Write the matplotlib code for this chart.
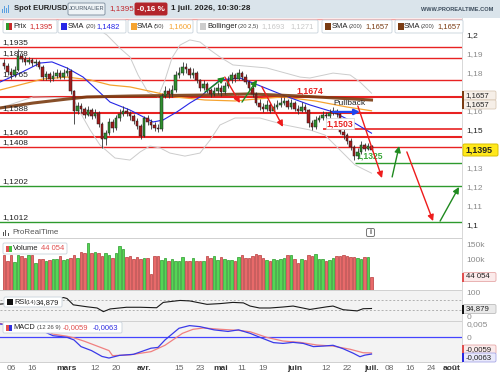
import matplotlib
matplotlib.use('Agg')
import matplotlib.pyplot as plt
from matplotlib.patches import Rectangle, FancyBboxPatch
from matplotlib.lines import Line2D
import pandas as pd

plt.rcParams['font.family'] = ['Liberation Sans', 'DejaVu Sans']

W, H = 500, 375

# ---------------- DONNEES ----------------
# Bougies journalieres EUR/USD (index de barre 0 = 4 fevr. 2026)
closes = [
    1.1835, 1.1805, 1.1790, 1.1815, 1.1890, 1.1872, 1.1860, 1.1868, 1.1850, 1.1856,
    1.1832, 1.1778, 1.1792, 1.1770, 1.1786, 1.1802, 1.1781, 1.1797, 1.1812, 1.1702,
    1.1600, 1.1626, 1.1610, 1.1580, 1.1602, 1.1574, 1.1590, 1.1532, 1.1452, 1.1483,
    1.1542, 1.1511, 1.1560, 1.1583, 1.1601, 1.1588, 1.1570, 1.1548, 1.1521, 1.1468,
    1.1560, 1.1541, 1.1524, 1.1510, 1.1502, 1.1680, 1.1702, 1.1688, 1.1712, 1.1790,
    1.1802, 1.1832, 1.1818, 1.1790, 1.1801, 1.1760, 1.1722, 1.1741, 1.1710, 1.1691,
    1.1702, 1.1722, 1.1700, 1.1731, 1.1760, 1.1788, 1.1770, 1.1798, 1.1780, 1.1752,
    1.1720, 1.1690, 1.1641, 1.1622, 1.1610, 1.1631, 1.1601, 1.1620, 1.1632, 1.1641,
    1.1650, 1.1621, 1.1640, 1.1611, 1.1600, 1.1621, 1.1606, 1.1538, 1.1512, 1.1550,
    1.1561, 1.1580, 1.1571, 1.1590, 1.1600, 1.1581, 1.1490, 1.1470, 1.1441, 1.1410,
    1.1360, 1.1381, 1.1420, 1.1401, 1.1412, 1.1395]
highs = [
    1.1872, 1.1850, 1.1828, 1.1836, 1.1928, 1.1905, 1.1890, 1.1885, 1.1880, 1.1874,
    1.1866, 1.1840, 1.1812, 1.1805, 1.1808, 1.1820, 1.1815, 1.1818, 1.1830, 1.1820,
    1.1712, 1.1648, 1.1640, 1.1622, 1.1625, 1.1615, 1.1612, 1.1598, 1.1540, 1.1500,
    1.1560, 1.1555, 1.1580, 1.1610, 1.1625, 1.1615, 1.1600, 1.1585, 1.1560, 1.1530,
    1.1575, 1.1578, 1.1555, 1.1540, 1.1530, 1.1695, 1.1730, 1.1722, 1.1738, 1.1808,
    1.1830, 1.1858, 1.1850, 1.1830, 1.1826, 1.1810, 1.1770, 1.1760, 1.1752, 1.1722,
    1.1725, 1.1745, 1.1735, 1.1752, 1.1782, 1.1805, 1.1802, 1.1818, 1.1812, 1.1792,
    1.1765, 1.1735, 1.1700, 1.1660, 1.1640, 1.1655, 1.1645, 1.1642, 1.1658, 1.1672,
    1.1675, 1.1662, 1.1660, 1.1652, 1.1628, 1.1645, 1.1635, 1.1612, 1.1552, 1.1570,
    1.1580, 1.1600, 1.1595, 1.1612, 1.1620, 1.1612, 1.1590, 1.1505, 1.1482, 1.1455,
    1.1422, 1.1402, 1.1440, 1.1432, 1.1430, 1.1418]
lows = [
    1.1818, 1.1788, 1.1770, 1.1778, 1.1808, 1.1855, 1.1842, 1.1845, 1.1836, 1.1835,
    1.1818, 1.1765, 1.1760, 1.1752, 1.1758, 1.1772, 1.1766, 1.1770, 1.1785, 1.1690,
    1.1532, 1.1585, 1.1590, 1.1562, 1.1570, 1.1555, 1.1560, 1.1515, 1.1405, 1.1420,
    1.1470, 1.1490, 1.1500, 1.1545, 1.1570, 1.1570, 1.1552, 1.1530, 1.1505, 1.1452,
    1.1460, 1.1525, 1.1505, 1.1495, 1.1488, 1.1495, 1.1665, 1.1668, 1.1675, 1.1700,
    1.1772, 1.1790, 1.1800, 1.1772, 1.1775, 1.1745, 1.1705, 1.1712, 1.1695, 1.1672,
    1.1680, 1.1690, 1.1680, 1.1690, 1.1722, 1.1748, 1.1752, 1.1760, 1.1765, 1.1740,
    1.1705, 1.1675, 1.1630, 1.1605, 1.1595, 1.1600, 1.1588, 1.1592, 1.1610, 1.1620,
    1.1628, 1.1608, 1.1612, 1.1598, 1.1585, 1.1592, 1.1592, 1.1515, 1.1498, 1.1505,
    1.1540, 1.1550, 1.1555, 1.1562, 1.1578, 1.1565, 1.1478, 1.1452, 1.1425, 1.1392,
    1.1338, 1.1345, 1.1372, 1.1388, 1.1395, 1.1388]
# ouverture = cloture de la veille (forex)
opens = [1.1850] + closes[:-1]

# volumes en milliers
volumes = [
    118, 98, 118, 94, 116, 112, 106, 118, 116, 90,
    104, 102, 97, 100, 104, 104, 112, 100, 104, 108,
    118, 105, 127, 124, 155, 122, 126, 122, 112, 123,
    118, 106, 122, 148, 136, 110, 112, 104, 110, 103,
    108, 106, 52, 112, 112, 100, 106, 95, 102, 98,
    98, 110, 98, 96, 106, 97, 97, 98, 112, 105,
    112, 100, 110, 104, 101, 101, 96, 110, 118, 105,
    108, 113, 120, 117, 108, 100, 96, 102, 100, 103,
    108, 118, 118, 103, 90, 102, 100, 118, 114, 119,
    102, 104, 98, 101, 108, 114, 112, 116, 112, 110,
    110, 108, 104, 110, 109, 44.054]

# moyennes mobiles (barre, prix)
sma20_x = [-1.1, 4.6, 10.3, 13.7, 18, 22.6, 26.6, 30.3, 36, 42.6, 45.4, 49.4, 53.1, 56,
           61.7, 67.4, 71.1, 79.7, 87.4, 94, 99.7, 105]
sma20_y = [1.1752, 1.1799, 1.1852, 1.1858, 1.1826, 1.1778, 1.1710, 1.1646, 1.1604, 1.1541,
           1.1551, 1.1594, 1.1641, 1.1673, 1.1763, 1.1773, 1.1747, 1.1683, 1.1631, 1.1594,
           1.1541, 1.1482]
sma50_x = [-1.1, 11.1, 18, 24.6, 30.3, 36, 44, 48.9, 57.4, 66, 72, 79.7, 88.9, 98, 105]
sma50_y = [1.1710, 1.1768, 1.1778, 1.1763, 1.1736, 1.1726, 1.1694, 1.1673, 1.1657, 1.1652,
           1.1662, 1.1673, 1.1652, 1.1620, 1.1600]
sma200_x = [-1.1, 8.3, 18, 23.7, 36, 56, 70.3, 84.6, 105]
sma200_y = [1.1615, 1.1641, 1.1662, 1.1673, 1.1678, 1.1683, 1.1689, 1.1678, 1.1657]
boll_haut_x = [27, 29.4, 33.1, 36, 38.3, 41.1, 44, 46, 48, 50.3, 53.1, 56, 58.9, 61.7, 65.4,
               75.1, 84.6, 87.4, 94, 98.9, 101.7, 105]
boll_haut_y = [1.2030, 1.2000, 1.1931, 1.1884, 1.1789, 1.1699, 1.1673, 1.1763, 1.1879, 1.1947,
               1.1974, 1.1963, 1.1921, 1.1884, 1.1842, 1.1826, 1.1778, 1.1773, 1.1799, 1.1789,
               1.1752, 1.1693]
boll_bas_x = [-1.1, 8.3, 19.7, 21.7, 24.6, 27.4, 31.7, 36, 38.9, 41.7, 44.6, 47.4, 51.7, 56,
              58.9, 61.7, 66, 73.1, 80.3, 87.4, 91.7, 96, 100.3, 105]
boll_bas_y = [1.1615, 1.1673, 1.1668, 1.1594, 1.1499, 1.1420, 1.1351, 1.1340, 1.1383, 1.1414,
              1.1404, 1.1377, 1.1361, 1.1377, 1.1446, 1.1525, 1.1562, 1.1562, 1.1525, 1.1499,
              1.1472, 1.1393, 1.1314, 1.1271]

# RSI (14)
rsi_x = [-1.1, 1.7, 4.6, 10, 16, 17, 18, 19.8, 23.7, 26.6, 28.4, 30.3, 35, 38.9, 43.6, 45.5,
         50.3, 53.1, 58, 61.7, 65.4, 68.4, 70.3, 73, 76, 79.7, 82.6, 87.4, 92.3, 94, 96.9,
         100.9, 102.6, 105]
rsi_y = [53, 56, 72, 75, 76, 80, 76, 50, 42, 37, 22, 33, 40, 40, 38, 60, 68, 66, 52, 55, 60,
         58, 45, 37, 37, 41, 45, 31, 42, 45, 30, 25, 34, 34.879]

# MACD (12 26 9)
macd_x = [-1.1, 5, 10, 14, 18, 20, 22, 25, 28, 30, 33, 37, 42, 44, 46, 50, 53, 56, 60, 64,
          67, 70.3, 73.1, 77, 79.7, 82.6, 85.5, 88.4, 91.3, 94, 96.9, 99.8, 101.7, 103.1, 105]
macd_y = [0.0050, 0.0040, 0.0030, 0.0006, 0.0000, -0.0010, -0.0035, -0.0050, -0.0072, -0.0078,
          -0.0068, -0.0064, -0.0041, -0.0038, -0.0010, 0.0034, 0.0044, 0.0040, 0.0028, 0.0022,
          0.0028, 0.0015, 0.0000, -0.0020, -0.0023, -0.0019, -0.0023, -0.0035, -0.0033,
          -0.0030, -0.0043, -0.0060, -0.0073, -0.0067, -0.0063]
signal_x = [-1.1, 10, 14, 18, 20, 23, 27, 30, 31, 36, 42, 46, 51, 54, 57, 62, 67, 70.3, 75,
            79.7, 84.6, 89.4, 94, 98.9, 102.6, 105]
signal_y = [0.0052, 0.0040, 0.0012, 0.0004, -0.0002, -0.0015, -0.0035, -0.0050, -0.0069,
            -0.0066, -0.0054, -0.0030, 0.0015, 0.0030, 0.0035, 0.0030, 0.0026, 0.0021, 0.0000,
            -0.0014, -0.0019, -0.0029, -0.0033, -0.0045, -0.0058, -0.0059]

# niveaux traces
niveaux_rouges = [1.1935, 1.1878, 1.1765, 1.1674, 1.1588, 1.1460, 1.1408]
epaisseurs_rouges = [1.0, 1.0, 1.0, 1.5, 1.5, 1.5, 1.0]
etiquettes_rouges = ['1,1935', '1,1878', '1,1765', '', '1,1588', '1,1460', '1,1408']
niveaux_verts = [1.1202, 1.1012]
etiquettes_vertes = ['1,1202', '1,1012']

# fleches de scenario (barre debut, prix debut, barre fin, prix fin)
fleches_vertes = [(57.4, 1.1699, 63.1, 1.1778), (68.0, 1.1646, 72.3, 1.1763),
                  (110.9, 1.1251, 112.9, 1.1414), (124.6, 1.1018, 130.0, 1.1198)]
fleches_rouges = [(63.1, 1.1778, 67.4, 1.1641), (73.7, 1.1726, 79.7, 1.1515),
                  (101.1, 1.1625, 108.0, 1.1245), (115.1, 1.1383, 122.6, 1.1018)]

# axe des dates
dates = pd.bdate_range('2026-02-04', periods=135)
ticks_dates = ['2026-02-06', '2026-02-16', '2026-03-02', '2026-03-12', '2026-03-20',
               '2026-04-01', '2026-04-15', '2026-04-23', '2026-05-01', '2026-05-11',
               '2026-05-19', '2026-06-01', '2026-06-12', '2026-06-22', '2026-07-01',
               '2026-07-08', '2026-07-16', '2026-07-24', '2026-08-03']
ticks_labels = ['06', '16', 'mars', '12', '20', 'avr.', '15', '23', 'mai', '11', '19',
                'juin', '12', '22', 'juil.', '08', '16', '24', 'août']
mois = ['mars', 'avr.', 'mai', 'juin', 'juil.', 'août']

# ---------------- FIGURE ----------------
fig = plt.figure(figsize=(W / 100, H / 100), dpi=100)
XLIM = (-4 / 3.5, (462 - 4) / 3.5)


def fx(x):
    return x / W


def fy(y):
    return 1 - y / H


def axes_px(x0, y0, x1, y1, fc='white'):
    ax = fig.add_axes([fx(x0), fy(y1), (x1 - x0) / W, (y1 - y0) / H])
    ax.set_facecolor(fc)
    for s in ax.spines.values():
        s.set_visible(False)
    ax.set_xlim(XLIM)
    ax.set_xticks([])
    ax.yaxis.tick_right()
    ax.tick_params(axis='y', length=0, pad=3, labelsize=6, labelcolor='#8a8a8a')
    return ax


def txt(x, y, s, **kw):
    kw.setdefault('fontsize', 5.5)
    kw.setdefault('va', 'center')
    kw.setdefault('color', '#222222')
    return fig.text(fx(x), fy(y), s, **kw)


def boite(x0, y0, x1, y1, fc='white', ec='#c9d3db', lw=0.7):
    p = FancyBboxPatch((fx(x0), fy(y1)), (x1 - x0) / W, (y1 - y0) / H,
                       boxstyle='round,pad=0,rounding_size=0.003', mutation_aspect=W / H,
                       transform=fig.transFigure, fc=fc, ec=ec, lw=lw, zorder=5)
    fig.add_artist(p)


def rect(x0, y0, x1, y1, color, z=6):
    fig.add_artist(Rectangle((fx(x0), fy(y1)), (x1 - x0) / W, (y1 - y0) / H,
                             transform=fig.transFigure, color=color, lw=0, zorder=z))


n = len(closes)
idx = list(range(n))
hausse = [c >= o for o, c in zip(opens, closes)]

# ----- panneau prix -----
ax = axes_px(0, 18, 462, 238)
ax.set_ylim(1.2 - 203 / 1895, 1.2 + 17 / 1895)
ax.axhline(1.2087, color='#f2a0a0', lw=1, zorder=1)

for niv, ep, lab in zip(niveaux_rouges, epaisseurs_rouges, etiquettes_rouges):
    ax.axhline(niv, color='#e82222', lw=ep, zorder=1)
    if lab:
        ax.annotate(lab, (0.006, niv), xycoords=('axes fraction', 'data'),
                    xytext=(0, 1), textcoords='offset points', va='bottom',
                    fontsize=6, color='#222222')
for niv, lab in zip(niveaux_verts, etiquettes_vertes):
    ax.axhline(niv, color='#2e9a2e', lw=1, zorder=1)
    ax.annotate(lab, (0.006, niv), xycoords=('axes fraction', 'data'),
                xytext=(0, 1), textcoords='offset points', va='bottom',
                fontsize=6, color='#222222')
ax.hlines(1.1503, 91, XLIM[1], color='#e82222', lw=1.2, zorder=1)
ax.hlines(1.1325, 100.2, XLIM[1], color='#2e9a2e', lw=1, zorder=1)

ax.plot(boll_haut_x, boll_haut_y, color='#cccccc', lw=0.7, zorder=2)
ax.plot(boll_bas_x, boll_bas_y, color='#cccccc', lw=0.7, zorder=2)
ax.plot(sma50_x, sma50_y, color='#f5a330', lw=0.9, zorder=2)
ax.plot(sma20_x, sma20_y, color='#2626e6', lw=0.8, zorder=2)
ax.plot(sma200_x, sma200_y, color='#7a3c12', lw=2.2, alpha=0.9, zorder=2)

# bougies
ax.vlines(idx, lows, highs, color='#333333', lw=0.6, zorder=3)
corps_bas = [min(o, c) for o, c in zip(opens, closes)]
corps_h = [max(abs(c - o), 0.00012) for o, c in zip(opens, closes)]
ax.bar(idx, corps_h, bottom=corps_bas, width=0.62,
       color=['#2f8f2f' if h else '#a31c1c' for h in hausse],
       edgecolor='#1a1a1a', lw=0.35, zorder=3)

for x0, y0, x1, y1 in fleches_vertes:
    ax.annotate('', xy=(x1, y1), xytext=(x0, y0),
                arrowprops=dict(arrowstyle='-|>', color='#1f8a1f', lw=1.0,
                                mutation_scale=9, shrinkA=0, shrinkB=0), zorder=4)
for x0, y0, x1, y1 in fleches_rouges:
    ax.annotate('', xy=(x1, y1), xytext=(x0, y0),
                arrowprops=dict(arrowstyle='-|>', color='#ee1c1c', lw=1.0,
                                mutation_scale=9, shrinkA=0, shrinkB=0), zorder=4)
ax.annotate('', xy=(101.7, 1.1594), xytext=(94, 1.1594),
            arrowprops=dict(arrowstyle='-|>', color='#2244ee', lw=1.6,
                            mutation_scale=8, shrinkA=0, shrinkB=0), zorder=4)
ax.text(94, 1.1618, 'Pullback', fontsize=6, color='#222222', va='bottom', zorder=5)
ax.text(83.6, 1.1682, '1,1674', fontsize=6.2, color='#e82222', fontweight='bold',
        va='bottom', zorder=5)
ax.text(92.2, 1.1532, '1,1503', fontsize=6.2, color='#e82222', fontweight='bold',
        va='center', zorder=5,
        bbox=dict(fc='white', ec='#d0d0d0', lw=0.5, pad=0.6))
ax.text(100.6, 1.1338, '1,1325', fontsize=6.2, color='#3aa83a', fontweight='bold',
        va='bottom', zorder=2)

ax.set_yticks([1.10, 1.11, 1.12, 1.13, 1.15, 1.16, 1.18, 1.19, 1.20])
ax.set_yticklabels(['1,1', '1,11', '1,12', '1,13', '1,15', '1,16', '1,18', '1,19', '1,2'])
for t in ax.get_yticklabels():
    if t.get_text() in ('1,1', '1,15', '1,2'):
        t.set_color('#222222')

# ----- panneau volume -----
axv = axes_px(0, 238, 462, 290)
axv.set_ylim(0, 173)
axv.bar(idx, volumes, width=0.8,
        color=['#55d655' if h else '#e86a6a' for h in hausse],
        edgecolor=['#2a9a2a' if h else '#b83a3a' for h in hausse], lw=0.5)
axv.set_yticks([100, 150])
axv.set_yticklabels(['100k', '150k'])

# ----- panneau RSI -----
axr = axes_px(0, 290, 462, 321, fc='#f3f3f3')
axr.set_ylim(-16.5, 111)
axr.axhline(70, color='#b0b0b0', lw=0.7, ls=(0, (2, 2)))
axr.axhline(30, color='#b0b0b0', lw=0.7, ls=(0, (2, 2)))
axr.plot(rsi_x, rsi_y, color='#1a1a1a', lw=0.8)
axr.set_yticks([0, 100])
axr.set_yticklabels(['0', '100'])

# ----- panneau MACD -----
axm = axes_px(0, 321, 462, 362, fc='#f3f3f3')
axm.set_ylim(-0.00929, 0.00613)
axm.axhline(0, color='#4444ff', lw=0.9)
axm.plot(signal_x, signal_y, color='#f08080', lw=0.9)
axm.plot(macd_x, macd_y, color='#3a3ae8', lw=0.9)
axm.set_yticks([0, 0.005])
axm.set_yticklabels(['0', '0,005'])
tick_pos = [list(dates).index(pd.Timestamp(d)) for d in ticks_dates]
axm.set_xticks(tick_pos)
axm.set_xticklabels(ticks_labels)
axm.tick_params(axis='x', length=0, pad=2.5, labelsize=6, labelcolor='#666666')
for t in axm.get_xticklabels():
    if t.get_text() in mois:
        t.set_fontweight('bold')
        t.set_color('#333333')

# separateurs
for y in (238, 290, 321, 362):
    fig.add_artist(Line2D([0, fx(462)], [fy(y), fy(y)], transform=fig.transFigure,
                          color='#d0d0d0', lw=0.7))
fig.add_artist(Line2D([fx(462), fx(462)], [fy(18), fy(362)], transform=fig.transFigure,
                      color='#d8d8d8', lw=0.7))

# ----- en-tete -----
rect(0, 0, 500, 18, '#dae4eb', z=1)
for i, hh in enumerate([4, 7, 5, 8]):
    rect(2 + i * 2, 13 - hh, 3.2 + i * 2, 13, '#5aa0e0', z=2)
txt(14, 9, 'Spot EUR/USD', fontsize=5.5, fontweight='bold')
boite(68, 3, 105, 15, fc='#eef3f6', ec='#8797a6')
txt(86.5, 9, 'JOURNALIER', fontsize=4.1, ha='center', color='#4a5a6a', zorder=6)
txt(109, 9, '1,1395', fontsize=5.8, color='#c0262c')
boite(135, 3, 167, 15, fc='#b3252b', ec='#b3252b')
txt(151, 9, '-0,16 %', fontsize=5.8, ha='center', color='white', fontweight='bold',
    zorder=6)
txt(171, 9, '1 juil. 2026, 10:30:28', fontsize=5.9, fontweight='bold')
txt(493, 9.5, 'WWW.PROREALTIME.COM', fontsize=4.1, ha='right', color='#3d4d5d',
    fontweight='bold')

# legende du panneau prix
legendes = [
    (3, 57, [(13, 'Prix', '#222222', 5.5), (29, '1,1395', '#d02a2a', 5.5)], ('#2f9a2f', '#c82a2a')),
    (58, 126, [(68, 'SMA', '#222222', 5.5), (85.5, '(20)', '#444444', 4.2),
               (96, '1,1482', '#2626e6', 5.5)], ('#2626e6', None)),
    (128, 193, [(137, 'SMA', '#222222', 5.5), (154, '(50)', '#444444', 4.2),
                (168, '1,1600', '#f5a330', 5.5)], ('#f5a330', None)),
    (197, 318, [(207, 'Bollinger', '#222222', 5.5), (238, '(20 2,5)', '#444444', 4.2),
                (261, '1,1693', '#c8c8c8', 5.5), (290, '1,1271', '#c8c8c8', 5.5)],
     ('#cccccc', None)),
    (322, 392, [(332, 'SMA', '#222222', 5.5), (348.5, '(200)', '#444444', 4.2),
                (365, '1,1657', '#7a3c12', 5.5)], ('#7a3c12', None)),
    (395, 463, [(404, 'SMA', '#222222', 5.5), (420.5, '(200)', '#444444', 4.2),
                (437, '1,1657', '#7a3c12', 5.5)], ('#7a3c12', None)),
]
for x0, x1, morceaux, (c1, c2) in legendes:
    boite(x0, 20, x1, 33, fc='white', ec='#cfd8e0')
    if c2:
        rect(x0 + 2.5, 23.5, x0 + 5.5, 29.5, c1)
        rect(x0 + 5.5, 23.5, x0 + 8.5, 29.5, c2)
    else:
        rect(x0 + 2.5, 23.5, x0 + 8.5, 29.5, c1)
    for xx, s, col, fs in morceaux:
        txt(xx, 26.8, s, fontsize=fs, color=col, zorder=7)


# etiquettes a droite
def etiquette(y, s, fc, ec, barre, fs=5.6):
    boite(463, y - 4.5, 496, y + 4.5, fc=fc, ec=ec, lw=0.6)
    rect(462, y - 4.5, 464.3, y + 4.5, barre, z=7)
    txt(465.5, y, s, fontsize=fs, zorder=8)


etiquette(95.5, '1,1657', '#f6efe8', '#d9c9b8', '#7a3c12')
etiquette(104.5, '1,1657', '#f6efe8', '#d9c9b8', '#7a3c12')
boite(463, 144, 498, 156, fc='#ffe81c', ec='#d9bf00', lw=0.7)
txt(465.5, 150, '1,1395', fontsize=6.4, fontweight='bold', zorder=8)
etiquette(277, '44 054', '#fbeaea', '#e6a8a8', '#e05050')
etiquette(309, '34,879', '#e9e9e9', '#bdbdbd', '#111111')
etiquette(349.5, '-0,0059', '#fbeaea', '#e6a8a8', '#e05050')
etiquette(357.5, '-0,0063', '#e9e9fb', '#a8a8e6', '#2a2ae0')

# logo et legendes des indicateurs
for i, hh in enumerate([4, 6, 3]):
    rect(3 + i * 2.3, 236 - hh, 4.1 + i * 2.3, 236, '#555555', z=2)
txt(12, 233, 'ProRealTime', fontsize=5.8, color='#555555')
boite(366.5, 228.5, 374.5, 236.5, fc='white', ec='#777777', lw=0.7)
txt(370.5, 232.5, 'i', fontsize=5, ha='center', color='#444444', fontweight='bold',
    zorder=6)

boite(3, 243, 67, 254, fc='white', ec='#cfd8e0')
rect(5.5, 245.5, 8.5, 251.5, '#e05050')
rect(8.5, 245.5, 11.5, 251.5, '#40c040')
txt(13, 248.7, 'Volume', zorder=7)
txt(41, 248.7, '44 054', color='#e05050', zorder=7)

boite(4, 297, 62, 307, fc='white', ec='#cfd8e0')
rect(6.5, 299, 12.5, 305, '#111111')
txt(14, 302.2, 'RSI', fontsize=5.3, zorder=7)
txt(26, 302.2, '(14)', fontsize=4.2, color='#444444', zorder=7)
txt(36, 302.2, '34,879', fontsize=5.5, zorder=7)

boite(3, 322, 122, 333, fc='white', ec='#cfd8e0')
rect(5.5, 324.5, 8.5, 330.5, '#e05050')
rect(8.5, 324.5, 11.5, 330.5, '#3030e0')
txt(13, 327.7, 'MACD', fontsize=5.3, zorder=7)
txt(37, 327.7, '(12 26 9)', fontsize=4.2, color='#444444', zorder=7)
txt(63, 327.7, '-0,0059', color='#e05050', zorder=7)
txt(93, 327.7, '-0,0063', color='#3030e0', zorder=7)

fig.savefig('out.png', dpi=100)
